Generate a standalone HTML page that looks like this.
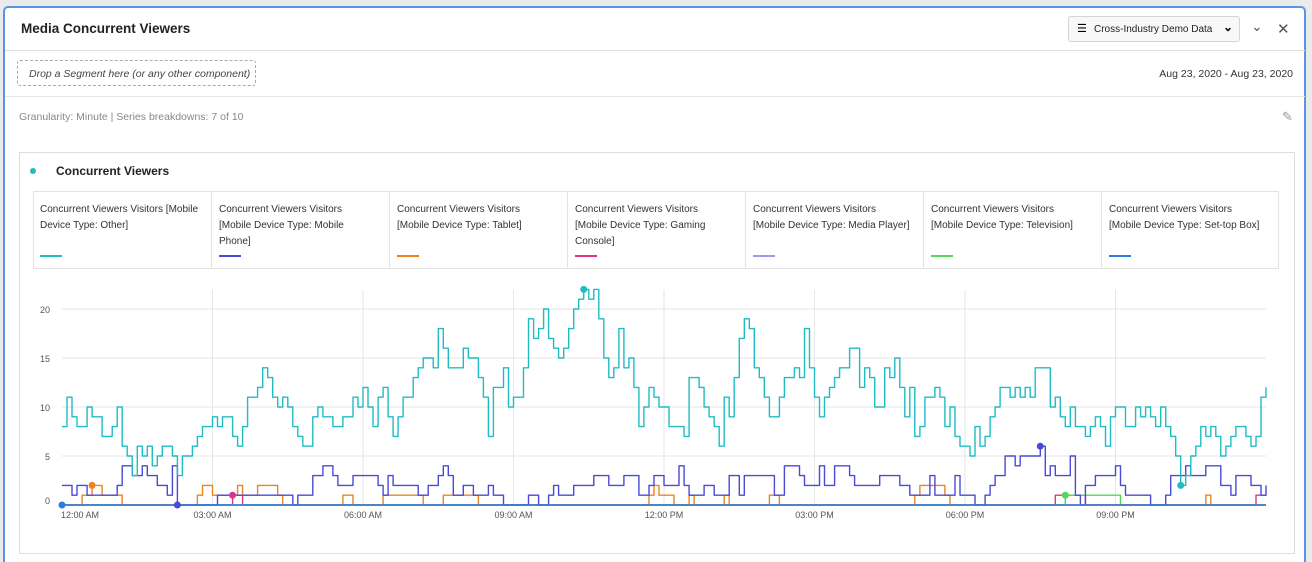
<!DOCTYPE html>
<html><head><meta charset="utf-8"><style>
html,body{margin:0;width:1312px;height:562px;overflow:hidden}
body{background:#ebebeb;font-family:"Liberation Sans",sans-serif;position:relative}
.abs{position:absolute}
#panel{left:3px;top:6px;width:1303px;height:556px;background:#fff;border:2px solid #5b93e6;border-bottom:none;border-radius:5px 5px 0 0;box-sizing:border-box}
.t{position:absolute;white-space:nowrap}
.leg{position:absolute;top:192px;height:76px;width:178px;border-left:1px solid #e3e3e3;font-size:10px;color:#333;line-height:16px;box-sizing:border-box;padding:10px 0 0 7px}
.leg .sw{position:absolute;left:7px;top:63px;width:22px;height:2px}
</style></head><body>
<div id="panel" class="abs"></div>
<div class="t" style="left:21px;top:21px;font-size:13.5px;font-weight:bold;color:#222">Media Concurrent Viewers</div>
<div class="abs" style="left:1068px;top:16px;width:172px;height:26px;border:1px solid #d5d5d5;border-radius:3px;background:#f8f8f8;box-sizing:border-box">
<div class="t" style="left:8px;top:5px;font-size:11px">&#9776;</div>
<div class="t" style="left:25px;top:7px;font-size:10px;color:#222">Cross-Industry Demo Data</div>
<div class="t" style="left:154px;top:3px;font-size:12px;font-weight:bold">&#8964;</div></div>
<div class="t" style="left:1251px;top:18px;font-size:14px;color:#555">&#8964;</div>
<div class="t" style="left:1277px;top:20px;font-size:15px;color:#555">&#10005;</div>
<div class="abs" style="left:5px;top:50px;width:1300px;height:1px;background:#ddd"></div>
<div class="abs" style="left:17px;top:60px;width:239px;height:26px;border:1px dashed #aaa;border-radius:3px;box-sizing:border-box">
<div class="t" style="left:11px;top:7px;font-size:10.5px;font-style:italic;color:#444">Drop a Segment here (or any other component)</div></div>
<div class="t" style="right:19px;top:68px;font-size:10.5px;color:#333">Aug 23, 2020 - Aug 23, 2020</div>
<div class="abs" style="left:5px;top:96px;width:1300px;height:1px;background:#e6e6e6"></div>
<div class="t" style="left:19px;top:111px;font-size:10.5px;color:#888">Granularity: Minute | Series breakdowns: 7 of 10</div>
<div class="t" style="left:1282px;top:109px;font-size:13px;color:#999">&#9998;</div>
<div class="abs" style="left:19px;top:152px;width:1276px;height:402px;border:1px solid #ddd;box-sizing:border-box"></div>
<div class="abs" style="left:30px;top:168px;width:6px;height:6px;border-radius:3px;background:#1fbcc4"></div>
<div class="t" style="left:56px;top:164px;font-size:12px;font-weight:bold;color:#222">Concurrent Viewers</div>
<div class="abs" style="left:33px;top:191px;width:1246px;height:78px;border:1px solid #e3e3e3;box-sizing:border-box"></div>
<div class="leg" style="left:33px;border-left:none">Concurrent Viewers Visitors [Mobile<br>Device Type: Other]<div class="sw" style="background:#1fbcc4"></div></div>
<div class="leg" style="left:211px">Concurrent Viewers Visitors<br>[Mobile Device Type: Mobile<br>Phone]<div class="sw" style="background:#4a4ad6"></div></div>
<div class="leg" style="left:389px">Concurrent Viewers Visitors<br>[Mobile Device Type: Tablet]<div class="sw" style="background:#f0821f"></div></div>
<div class="leg" style="left:567px">Concurrent Viewers Visitors<br>[Mobile Device Type: Gaming<br>Console]<div class="sw" style="background:#e0338a"></div></div>
<div class="leg" style="left:745px">Concurrent Viewers Visitors<br>[Mobile Device Type: Media Player]<div class="sw" style="background:#9a9af0"></div></div>
<div class="leg" style="left:923px">Concurrent Viewers Visitors<br>[Mobile Device Type: Television]<div class="sw" style="background:#55d655"></div></div>
<div class="leg" style="left:1101px">Concurrent Viewers Visitors<br>[Mobile Device Type: Set-top Box]<div class="sw" style="background:#2b7de0"></div></div>
<svg id="chart" class="abs" style="left:0;top:0" width="1312" height="562"></svg>
<script>
const xTickLabels=["12:00 AM","03:00 AM","06:00 AM","09:00 AM","12:00 PM","03:00 PM","06:00 PM","09:00 PM"];
const yTicks=[0,5,10,15,20];
const other=[8,11,9,8,8,10,9,9,7,7,8,10,6,5,3,6,5,6,4,5,6,6,5,3,5,5,6,7,8,8,9,8,9,9,7,6,8,11,11,12,14,13,11,10,11,10,8,7,6,6,9,10,9,9,8,8,9,9,11,10,12,10,8,11,12,9,7,9,11,11,13,14,15,15,14,18,16,14,14,14,16,15,15,13,11,7,12,12,14,10,11,11,14,19,17,18,20,17,16,15,16,18,20,21,22,21,22,19,15,13,14,18,14,15,12,8,10,12,11,10,10,8,8,8,7,13,13,12,10,9,8,6,11,9,13,17,19,18,14,13,11,9,9,11,13,13,14,13,18,14,11,9,11,12,13,14,14,16,16,12,14,13,10,10,14,13,15,12,9,12,7,8,11,11,12,11,8,10,7,6,6,5,8,6,7,9,10,12,12,11,12,11,12,11,14,14,14,10,11,9,8,10,8,8,7,8,9,8,6,9,10,10,8,8,10,9,10,9,8,10,8,7,5,2,3,5,6,8,7,8,7,5,6,7,8,8,7,6,7,11,12];
const mobilePhone=[2,2,1,2,2,1,1,1,1,1,1,2,4,4,3,3,4,3,3,2,2,1,4,0,0,0,0,0,0,0,0,1,1,1,1,1,1,1,1,1,1,1,1,1,1,1,0,1,1,1,3,3,4,4,3,2,2,2,3,3,3,3,3,2,1,3,2,2,2,2,2,1,1,2,2,3,4,3,1,1,2,2,1,1,1,2,1,1,0,0,0,0,0,1,1,0,0,1,2,1,1,1,2,2,2,2,3,3,3,2,2,2,3,3,3,1,1,2,3,3,2,2,2,4,2,1,1,1,2,2,1,1,1,3,3,1,3,3,3,3,3,3,1,1,4,4,4,3,2,2,2,4,2,2,4,4,4,3,2,2,2,2,2,3,3,3,3,2,2,1,1,1,1,3,1,1,1,1,3,1,1,1,0,0,1,2,3,3,5,5,4,5,5,5,5,6,3,4,3,3,3,5,1,0,2,2,3,3,3,3,4,2,1,1,1,1,1,0,0,0,1,3,3,3,4,3,3,3,4,4,4,2,2,1,3,3,3,2,2,1,2];
const tablet=[0,0,0,0,1,1,2,2,1,1,1,1,0,0,0,0,0,0,0,0,0,0,0,0,0,0,0,1,2,2,1,1,1,1,1,2,1,1,1,2,2,2,2,1,0,0,0,0,0,0,0,0,0,0,0,0,1,1,0,0,0,0,0,0,1,1,1,1,1,1,1,1,0,0,0,0,1,1,1,1,1,1,1,0,0,0,0,0,0,0,0,0,0,0,0,0,0,0,0,0,0,0,0,0,0,0,0,0,0,0,0,0,0,0,0,0,0,1,2,1,1,1,0,0,0,1,0,0,0,0,0,0,1,0,0,0,0,0,0,0,0,1,1,0,0,0,0,0,0,0,0,0,0,0,0,0,0,0,0,0,0,0,0,0,0,0,0,0,0,0,1,2,2,2,2,2,1,0,0,0,0,0,0,0,0,0,0,0,0,0,0,0,0,0,0,0,0,0,0,0,0,0,0,0,0,0,0,0,0,0,0,0,0,0,0,0,0,0,0,0,0,0,0,0,0,0,0,0,1,0,0,0,0,0,0,0,0,0,0,0,0,0,0,1,1,0,0,0,0,0,0,0,0,0,0,0,0,0];
const gaming=[0,0,0,0,0,0,0,0,0,0,0,0,0,0,0,0,0,0,0,0,0,0,0,0,0,0,0,0,0,0,0,0,0,0,1,1,0,0,0,0,0,0,0,0,0,0,0,0,0,0,0,0,0,0,0,0,0,0,0,0,0,0,0,0,0,0,0,0,0,0,0,0,0,0,0,0,0,0,0,0,0,0,0,0,0,0,0,0,0,0,0,0,0,0,0,0,0,0,0,0,0,0,0,0,0,0,0,0,0,0,0,0,0,0,0,0,0,0,0,0,0,0,0,0,0,0,0,0,0,0,0,0,0,0,0,0,0,0,0,0,0,0,0,0,0,0,0,0,0,0,0,0,0,0,0,0,0,0,0,0,0,0,0,0,0,0,0,0,0,0,0,0,0,0,0,0,0,0,0,0,0,0,0,0,0,0,0,0,0,0,0,0,0,0,0,0,0,0,1,1,1,1,1,1,0,0,0,0,0,0,0,0,0,0,0,0,0,0,0,0,0,0,0,0,0,0,0,0,0,0,0,0,0,0,0,0,0,0,1,1,1,1];
const television=[0,0,0,0,0,0,0,0,0,0,0,0,0,0,0,0,0,0,0,0,0,0,0,0,0,0,0,0,0,0,0,0,0,0,0,0,0,0,0,0,0,0,0,0,0,0,0,0,0,0,0,0,0,0,0,0,0,0,0,0,0,0,0,0,0,0,0,0,0,0,0,0,0,0,0,0,0,0,0,0,0,0,0,0,0,0,0,0,0,0,0,0,0,0,0,0,0,0,0,0,0,0,0,0,0,0,0,0,0,0,0,0,0,0,0,0,0,0,0,0,0,0,0,0,0,0,0,0,0,0,0,0,0,0,0,0,0,0,0,0,0,0,0,0,0,0,0,0,0,0,0,0,0,0,0,0,0,0,0,0,0,0,0,0,0,0,0,0,0,0,0,0,0,0,0,0,0,0,0,0,0,0,0,0,0,0,0,0,0,0,0,0,0,0,0,0,0,0,0,0,1,1,1,1,1,1,1,1,1,1,1,0,0,0,0,0,0,0,0,0,0,0,0,0,0,0,0,0,0,0,0,0,0,0,0,0,0,0,0,0,0];
const mediaPlayer=new Array(241).fill(0);
const setTop=new Array(241).fill(0);
const series=[["media-player",mediaPlayer,"#9a9af0",-1],["gaming-console",gaming,"#e0338a",34],["television",television,"#55d655",200],["tablet",tablet,"#f0821f",6],["mobile-phone",mobilePhone,"#4a4ad6",195],["other",other,"#1fbcc4",223],["set-top",setTop,"#2b7de0",0]];
const N=241,X0=62,X1=1266,Y0=505,PPU=9.8;
const xs=i=>X0+(X1-X0)*i/(N-1);
const ys=v=>Y0-v*PPU;
const svg=document.getElementById('chart');const NS='http://www.w3.org/2000/svg';
function mk(t,a){const e=document.createElementNS(NS,t);for(const k in a)e.setAttribute(k,a[k]);svg.appendChild(e);return e;}
yTicks.forEach(v=>{const l=mk('line',{x1:X0,x2:X1,y1:ys(v),y2:ys(v),stroke:'#e6e6e6','stroke-width':1});


const t=mk('text',{x:50,y:ys(v)+(v===0?-1:4),'text-anchor':'end','font-size':9,fill:'#555','font-family':'Liberation Sans, sans-serif'});t.textContent=v;

});
xTickLabels.forEach((s,i)=>{const x=xs(i*30);if(i>0){const g=mk('line',{x1:x,x2:x,y1:290,y2:Y0,stroke:'#e6e6e6'});

}
const t=mk('text',{x:i===0?x+18:x,y:518,'text-anchor':'middle','font-size':9,fill:'#555','font-family':'Liberation Sans, sans-serif'});t.textContent=s;

});
const markers=[];
series.forEach(([nm,arr,c,mi])=>{const n=Math.min(arr.length,N);let d='M'+xs(0)+','+ys(arr[0]);for(let i=1;i<n;i++){d+='H'+xs(i).toFixed(1)+'V'+ys(arr[i]).toFixed(1);}
d+='H'+xs(n-1).toFixed(1);
const p=mk('path',{d:d,fill:'none',stroke:c,'stroke-width':1.4,'stroke-linejoin':'round'});


if(mi>=0)markers.push([nm,arr,c,mi]);});
markers.forEach(([nm,arr,c,mi])=>{const m=mk('circle',{cx:xs(mi),cy:ys(arr[mi]),r:3.5,fill:c});

});
const pk=mk('circle',{cx:xs(104),cy:ys(other[104]),r:3.5,fill:'#1fbcc4'});


const pm=mk('circle',{cx:xs(23),cy:ys(mobilePhone[23]),r:3.5,fill:'#4a4ad6'});


</script>
</body></html>
